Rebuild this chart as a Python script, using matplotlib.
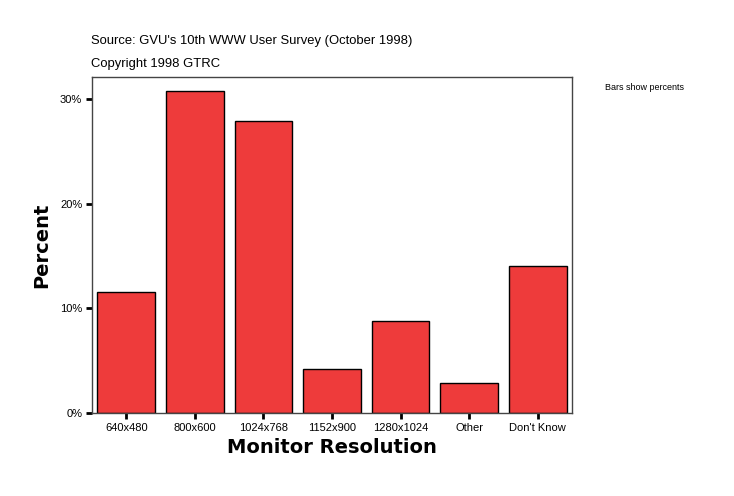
import matplotlib.pyplot as plt
import numpy as np

categories = ["640x480", "800x600", "1024x768", "1152x900", "1280x1024", "Other", "Don't Know"]
percents = [11.6, 30.8, 27.9, 4.2, 8.8, 2.9, 14.0]
yticks = [0, 10, 20, 30]

plt.rcParams["font.family"] = ["Liberation Sans", "DejaVu Sans"]

fig = plt.figure(figsize=(7.34, 4.96), dpi=100)
ax = fig.add_axes([0.1253, 0.1673, 0.654, 0.6775])

x = np.arange(len(categories))
ax.bar(x, percents, width=0.84, color="#ee3b3b", edgecolor="black", linewidth=1)

ax.set_xlim(-0.5, len(categories) - 0.5)
ax.set_ylim(0, 32.1)
ax.set_xticks(x)
ax.set_xticklabels(categories, fontsize=8)
ax.set_yticks(yticks)
ax.set_yticklabels([f"{v}%" for v in yticks], fontsize=8)
ax.tick_params(direction="out", length=4, width=2, color="black", pad=3)

for side in ["left", "right", "top", "bottom"]:
    ax.spines[side].set_color("#444444")
    ax.spines[side].set_linewidth(1)

ax.set_ylabel("Percent", fontsize=14, fontweight="black", family="DejaVu Sans", labelpad=6)
ax.set_xlabel("Monitor Resolution", fontsize=14, fontweight="black", family="DejaVu Sans", labelpad=4)

fig.text(91 / 734, 1 - 41 / 496, "Source: GVU's 10th WWW User Survey (October 1998)", fontsize=9.4, va="center")
fig.text(91 / 734, 1 - 64 / 496, "Copyright 1998 GTRC", fontsize=9.4, va="center")
fig.text(605 / 734, 1 - 87 / 496, "Bars show percents", fontsize=6.5, va="center")

fig.savefig("out.png", dpi=100)
